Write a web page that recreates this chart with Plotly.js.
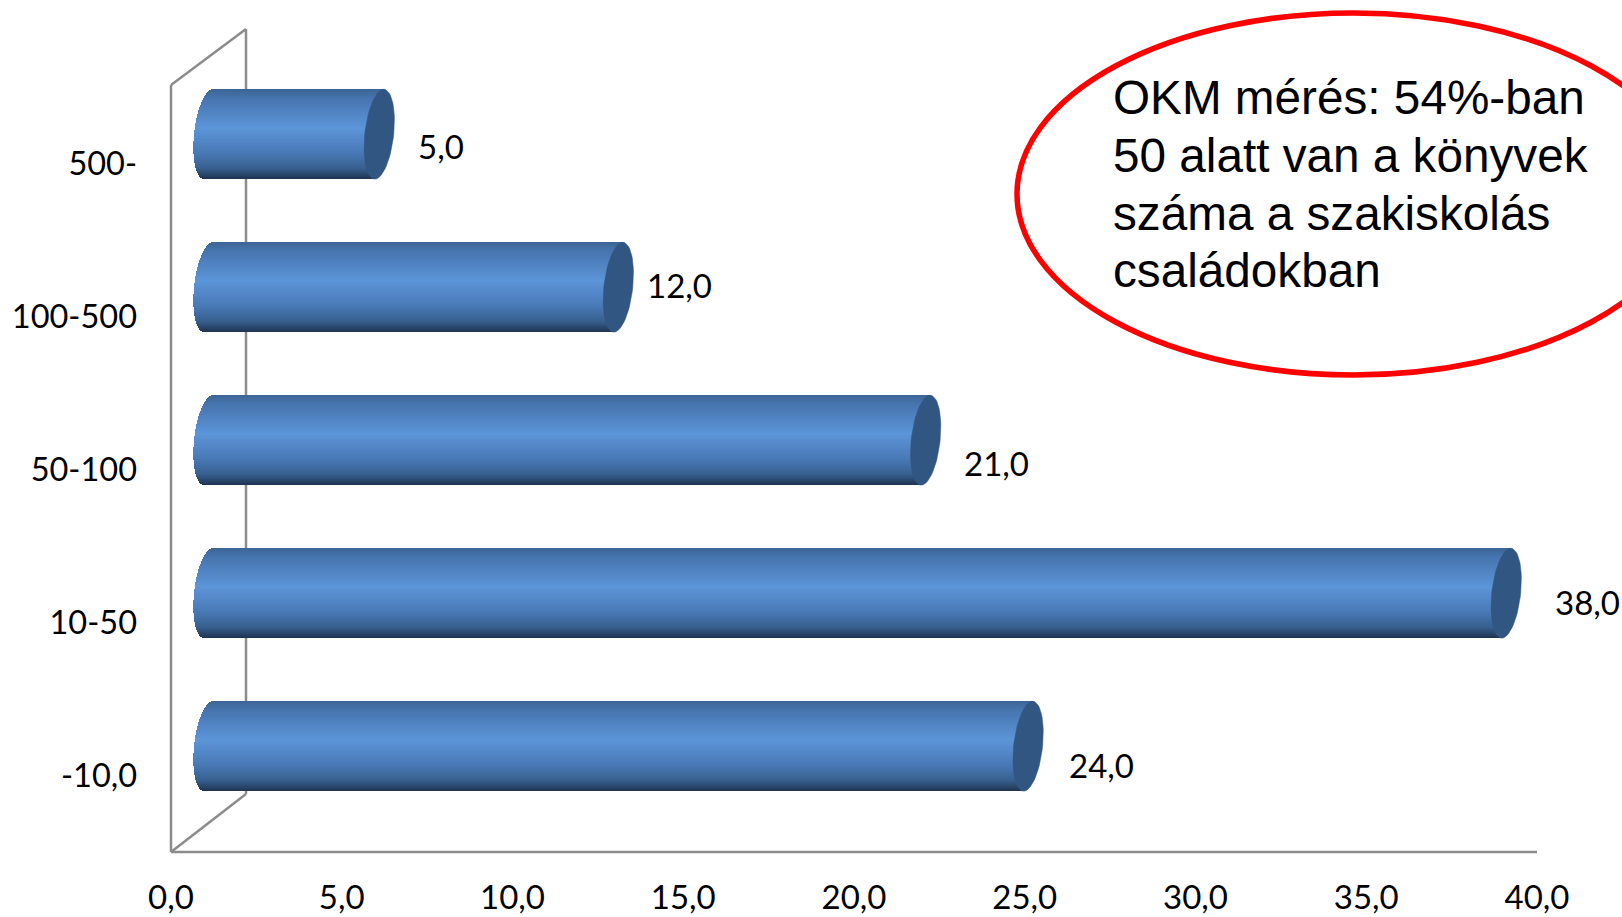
<!DOCTYPE html>
<html><head><meta charset="utf-8">
<script src="https://cdn.plot.ly/plotly-3.0.1.min.js"></script>
<style>html,body{margin:0;padding:0;background:#fff;overflow:hidden}#c{width:1622px;height:917px}</style>
</head><body><div id="c"></div>
<script>
const categories = ['-10,0', '10-50', '50-100', '100-500', '500-'];
const values = [24, 38, 21, 12, 5];
const xTicks = [0, 5, 10, 15, 20, 25, 30, 35, 40];
const noteLines = ['OKM mérés: 54%-ban', '50 alatt van a könyvek', 'száma a szakiskolás', 'családokban'];

// styling of the drawn cylinders and labels
const W = 1622, H = 917, L = 171, R = 1537, T = 87, B = 852;
const unitX = (R - L) / 40, unitY = (B - T) / 5;
const barShift = 29.3 / unitY, barHalf = 45 / unitY;
const startOff = 37.5 / unitX, capA = 14.5 / unitX, capTilt = 4.5 / unitX;
const STRIPS = 90;
const stops = [[0,[60,101,149]],[0.1,[70,116,174]],[0.43,[92,149,216]],[0.7,[74,122,184]],[0.88,[55,96,143]],[1,[31,51,80]]];
const labelShift = [[73,-19],[81,-9],[71,-23],[61,2],[62,-12]];
const gridCol = '#8c8c8c';
const labelFont = 'Lato, "Open Sans", sans-serif';

function shade(t){
  for(let i=1;i<stops.length;i++){
    if(t<=stops[i][0]){
      const a=stops[i-1],b=stops[i],f=(t-a[0])/(b[0]-a[0]);
      return 'rgb('+a[1].map((c,k)=>Math.round(c+(b[1][k]-c)*f)).join(',')+')';
    }
  }
  return 'rgb(31,51,80)';
}
const traces=[];
for(let s=0;s<STRIPS;s++){
  const t=(s+0.5)/STRIPS, u=1-2*t, hw=Math.sqrt(Math.max(0,1-u*u));
  const base=values.map(()=>startOff-capA*hw+capTilt*u);
  const len=values.map(v=>v+capA*hw);
  traces.push({type:'bar',orientation:'h',
    y:values.map((v,i)=>i+barShift+u*barHalf),
    x:len,base:base,width:(2*barHalf/STRIPS)*1.5,
    marker:{color:shade(t),line:{width:0}},hoverinfo:'skip',showlegend:false});
}
const capX=[],capY=[];
values.forEach((v,i)=>{
  for(let d=0;d<=72;d++){
    const a=d/72*2*Math.PI, u=Math.sin(a);
    capX.push(v+startOff+capA*Math.cos(a)+capTilt*u);
    capY.push(i+barShift+barHalf*u);
  }
  capX.push(null);capY.push(null);
});
traces.push({type:'scatter',mode:'lines',x:capX,y:capY,fill:'toself',fillcolor:'#325682',
  line:{width:0.5,color:'#325682'},hoverinfo:'skip',showlegend:false,cliponaxis:false});

const px=x=>(x-L)/(R-L), py=y=>(B-y)/(B-T);
function seg(x0,y0,x1,y1){return {type:'line',xref:'paper',yref:'paper',layer:'below',
  x0:px(x0),y0:py(y0),x1:px(x1),y1:py(y1),line:{color:gridCol,width:2.5}};}
const shapes=[
  seg(171,85,171,852),seg(171,852,1537,852),
  seg(171,85,246,29),seg(246,29,246,794),seg(171,852,246,794),
  {type:'circle',xref:'paper',yref:'paper',layer:'above',
   x0:px(1017),x1:px(1690),y0:py(375),y1:py(13),
   line:{color:'#ff0000',width:5.5},fillcolor:'rgba(0,0,0,0)'}
];
const annotations=values.map((v,i)=>({
  x:v+startOff,y:i+barShift,xref:'x',yref:'y',showarrow:false,
  text:v.toFixed(1).replace('.',','),xanchor:'center',yanchor:'middle',
  xshift:labelShift[i][0],yshift:labelShift[i][1],
  font:{family:labelFont,size:33,color:'#000'}
}));
noteLines.forEach((t,i)=>annotations.push({
  xref:'paper',yref:'paper',x:px(1111),y:py(98+i*57.6),showarrow:false,text:t,
  xanchor:'left',yanchor:'middle',align:'left',
  font:{family:'"Liberation Sans",Arial,sans-serif',size:47.7,color:'#000'}
}));
Plotly.newPlot('c',traces,{
  width:W,height:H,margin:{l:L,r:W-R,t:T,b:H-B,pad:0},
  paper_bgcolor:'#fff',plot_bgcolor:'rgba(0,0,0,0)',
  barmode:'overlay',bargap:0,showlegend:false,separators:', ',
  xaxis:{range:[0,40],tickvals:xTicks,tickformat:'.1f',showgrid:false,zeroline:false,showline:false,
    ticks:'',ticklabelstandoff:23,tickfont:{family:labelFont,size:33,color:'#000'}},
  yaxis:{range:[-0.5,4.5],tickvals:categories.map((c,i)=>i),ticktext:categories,showgrid:false,zeroline:false,showline:false,
    ticks:'',ticklabelstandoff:33,tickfont:{family:labelFont,size:32.5,color:'#000'}},
  shapes:shapes,annotations:annotations
},{displayModeBar:false,staticPlot:true});
</script></body></html>
